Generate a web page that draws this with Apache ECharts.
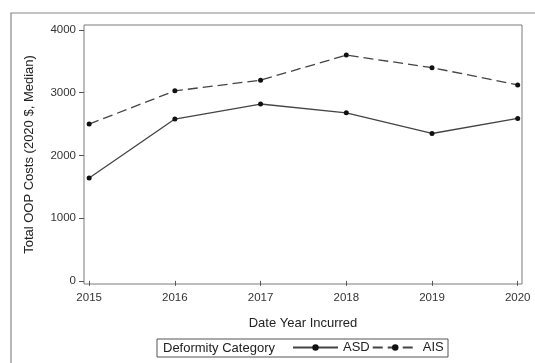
<!DOCTYPE html>
<html>
<head>
<meta charset="utf-8">
<script src="https://cdn.jsdelivr.net/npm/echarts@6/dist/echarts.min.js"></script>
<style>
  html, body { margin: 0; padding: 0; background: #fff; }
  #chart { width: 535px; height: 363px; }
</style>
</head>
<body>
<div id="chart"></div>
<script>
var years = [2015, 2016, 2017, 2018, 2019, 2020];
var asdValues = [1640, 2580, 2820, 2680, 2350, 2590];
var aisValues = [2500, 3030, 3200, 3600, 3400, 3125];
var yTicks = [0, 1000, 2000, 3000, 4000];

var font = 'Liberation Sans, Arial, sans-serif';
var chart = echarts.init(document.getElementById('chart'));

function pairs(vals) {
  return years.map(function (y, i) { return [y, vals[i]]; });
}
function plain(v) { return String(v); }

chart.setOption({
  animation: false,
  grid: {
    left: 84, top: 25, right: 13, bottom: 79,
    show: true, borderColor: '#7a7a7a', borderWidth: 1
  },
  xAxis: {
    type: 'value',
    min: 2014.94, max: 2020.05,
    name: 'Date Year Incurred',
    nameLocation: 'middle',
    nameGap: 33,
    nameTextStyle: { fontFamily: font, fontSize: 13, color: '#222' },
    axisLine: { show: false },
    axisTick: { show: true, customValues: years, length: 5, lineStyle: { color: '#555' } },
    axisLabel: { customValues: years, formatter: plain, fontFamily: font, fontSize: 11.5, color: '#333', margin: 8 },
    splitLine: { show: false }
  },
  yAxis: {
    type: 'value',
    min: -50, max: 4080,
    name: 'Total OOP Costs (2020 $, Median)',
    nameLocation: 'middle',
    nameGap: 48,
    nameTextStyle: { fontFamily: font, fontSize: 13, color: '#222' },
    axisLine: { show: false },
    axisTick: { show: true, customValues: yTicks, length: 5, lineStyle: { color: '#555' } },
    axisLabel: { customValues: yTicks, formatter: plain, fontFamily: font, fontSize: 11.5, color: '#333', margin: 8 },
    splitLine: { show: false }
  },
  legend: {
    left: 292, top: 341, padding: 0,
    itemWidth: 45, itemHeight: 8, itemGap: 2,
    textStyle: { fontFamily: font, fontSize: 13, color: '#222' },
    data: ['ASD', 'AIS']
  },
  graphic: [
    {
      type: 'rect', silent: true,
      shape: { x: 11, y: 13, width: 700, height: 500 },
      style: { fill: 'none', stroke: '#888', lineWidth: 1.2 }
    },
    {
      type: 'rect', silent: true,
      shape: { x: 157, y: 339, width: 291, height: 18 },
      style: { fill: 'none', stroke: '#555', lineWidth: 1 }
    },
    {
      type: 'text', silent: true,
      x: 163, y: 348,
      style: { text: 'Deformity Category', font: '13px ' + font, fill: '#222', verticalAlign: 'middle' }
    }
  ],
  series: [
    {
      name: 'ASD', type: 'line',
      data: pairs(asdValues),
      symbol: 'circle', symbolSize: 5,
      itemStyle: { color: '#111' },
      lineStyle: { color: '#444', width: 1.3, type: 'solid' }
    },
    {
      name: 'AIS', type: 'line',
      data: pairs(aisValues),
      symbol: 'circle', symbolSize: 5,
      itemStyle: { color: '#111' },
      lineStyle: { color: '#444', width: 1.3, type: [10, 5] }
    }
  ]
});
</script>
</body>
</html>
